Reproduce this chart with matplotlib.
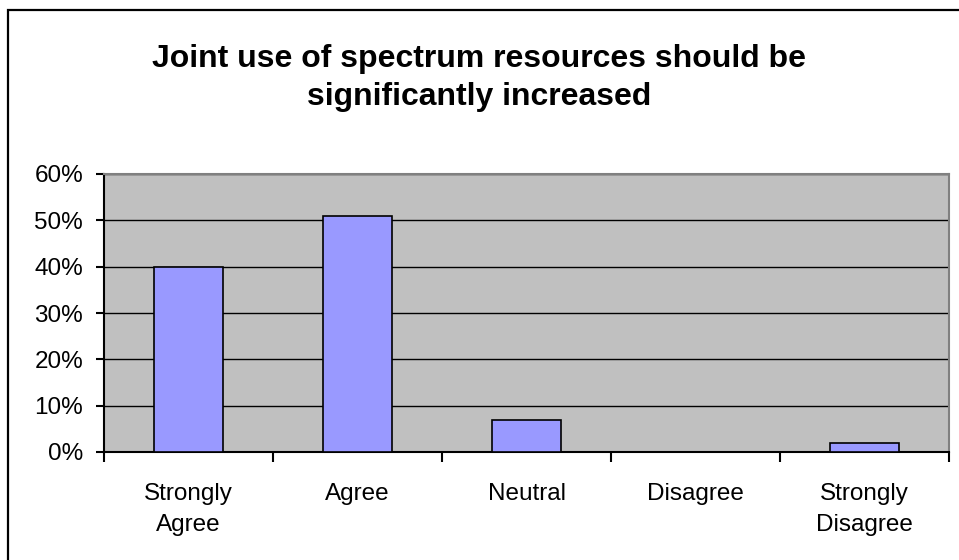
import matplotlib.pyplot as plt
from matplotlib.patches import Rectangle
from matplotlib.ticker import FixedLocator, PercentFormatter

plt.rcParams['font.family'] = ['Liberation Sans', 'DejaVu Sans']

# --- data ---
categories = ['Strongly\nAgree', 'Agree', 'Neutral', 'Disagree', 'Strongly\nDisagree']
values = [40, 51, 7, 0, 2]
y_ticks = [0, 10, 20, 30, 40, 50, 60]
title = 'Joint use of spectrum resources should be\nsignificantly increased'

fig = plt.figure(figsize=(9.59, 5.6), dpi=100)
fig.patch.set_facecolor('white')

# outer chart border (right and bottom edges run off the picture)
fig.patches.append(Rectangle((8 / 959, -10 / 560), 960 / 959, 560 / 560, transform=fig.transFigure,
                             fill=False, edgecolor='black', linewidth=1.6))

ax = fig.add_axes([104 / 959, 1 - 452 / 560, 845 / 959, 278 / 560])
ax.set_facecolor('#C0C0C0')

x = range(len(categories))
ax.bar(x, values, width=0.41, color='#9999FF', edgecolor='black', linewidth=1.2, zorder=3)

ax.set_xlim(-0.5, len(categories) - 0.5)
ax.set_ylim(0, 60)
ax.set_yticks(y_ticks)
ax.yaxis.set_major_formatter(PercentFormatter(decimals=0))
ax.grid(axis='y', color='black', linewidth=1.0, zorder=1)

# category labels between boundary ticks
ax.xaxis.set_major_locator(FixedLocator([i - 0.5 for i in range(len(categories) + 1)]))
ax.set_xticklabels([])
ax.xaxis.set_minor_locator(FixedLocator(list(x)))
ax.set_xticklabels(categories, minor=True)
ax.tick_params(axis='x', which='minor', length=0, pad=22, labelsize=17.5)
ax.tick_params(axis='x', which='major', length=7, width=1.5, direction='out')
ax.tick_params(axis='y', length=6, width=1.5, direction='out', labelsize=17.5, pad=9)

for lbl in ax.get_xticklabels(minor=True):
    lbl.set_linespacing(1.55)

ax.spines['left'].set_linewidth(1.5)
ax.spines['bottom'].set_linewidth(1.5)
ax.spines['top'].set_color('#808080')
ax.spines['right'].set_color('#808080')
ax.spines['top'].set_linewidth(1.5)
ax.spines['right'].set_linewidth(1.5)

fig.text(0.5, 1 - 78 / 560, title, ha='center', va='center', fontsize=23,
         fontweight='bold', linespacing=1.38)

fig.savefig('out.png', dpi=100)
